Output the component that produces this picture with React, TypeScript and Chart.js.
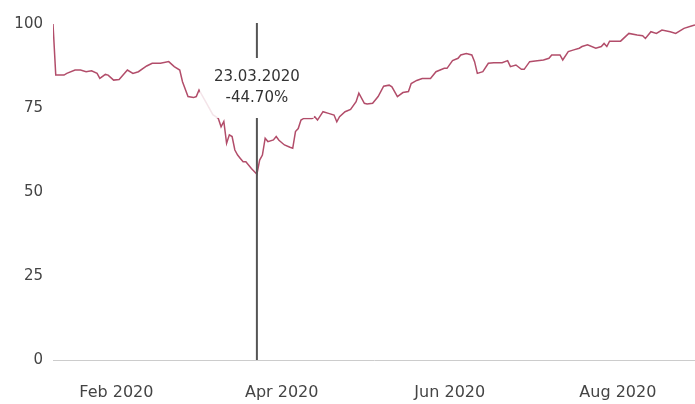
import React, { useEffect, useRef } from "react";
import { Chart, registerables } from "chart.js";

Chart.register(...registerables);

const dates = [
  "2020-01-09", "2020-01-10", "2020-01-13", "2020-01-14", "2020-01-17", "2020-01-19", "2020-01-21", "2020-01-23",
  "2020-01-25", "2020-01-26", "2020-01-28", "2020-01-29", "2020-01-31", "2020-02-02", "2020-02-05", "2020-02-07",
  "2020-02-09", "2020-02-12", "2020-02-14", "2020-02-17", "2020-02-20", "2020-02-22", "2020-02-24", "2020-02-25",
  "2020-02-27", "2020-02-29", "2020-03-01", "2020-03-02", "2020-03-05", "2020-03-07", "2020-03-09", "2020-03-10",
  "2020-03-11", "2020-03-12", "2020-03-13", "2020-03-14", "2020-03-15", "2020-03-16", "2020-03-17", "2020-03-18",
  "2020-03-19", "2020-03-21", "2020-03-23", "2020-03-24", "2020-03-25", "2020-03-26", "2020-03-27", "2020-03-29",
  "2020-03-30", "2020-03-31", "2020-04-02", "2020-04-04", "2020-04-05", "2020-04-06", "2020-04-07", "2020-04-08",
  "2020-04-09", "2020-04-12", "2020-04-13", "2020-04-14", "2020-04-16", "2020-04-18", "2020-04-20", "2020-04-21",
  "2020-04-22", "2020-04-24", "2020-04-26", "2020-04-28", "2020-04-29", "2020-05-01", "2020-05-02", "2020-05-04",
  "2020-05-06", "2020-05-08", "2020-05-10", "2020-05-11", "2020-05-13", "2020-05-15", "2020-05-17", "2020-05-18",
  "2020-05-20", "2020-05-22", "2020-05-25", "2020-05-27", "2020-05-30", "2020-05-31", "2020-06-02", "2020-06-04",
  "2020-06-05", "2020-06-07", "2020-06-09", "2020-06-10", "2020-06-11", "2020-06-13", "2020-06-15", "2020-06-17",
  "2020-06-20", "2020-06-22", "2020-06-23", "2020-06-25", "2020-06-27", "2020-06-28", "2020-06-30", "2020-07-02",
  "2020-07-05", "2020-07-07", "2020-07-08", "2020-07-11", "2020-07-12", "2020-07-14", "2020-07-16", "2020-07-18",
  "2020-07-19", "2020-07-21", "2020-07-24", "2020-07-26", "2020-07-27", "2020-07-28", "2020-07-29", "2020-08-02",
  "2020-08-05", "2020-08-08", "2020-08-10", "2020-08-11", "2020-08-13", "2020-08-15", "2020-08-17", "2020-08-20",
  "2020-08-22", "2020-08-25", "2020-08-28", "2020-08-29",
];

const values = [
  100, 84.8, 84.8, 85.3, 86.3, 86.3, 85.8, 86.1,
  85.3, 83.8, 85, 84.8, 83.3, 83.5, 86.3, 85.3,
  85.8, 87.5, 88.3, 88.3, 88.8, 87.3, 86.3, 82.8,
  78.4, 78.1, 78.4, 80.4, 76, 73, 71.9, 69.4,
  71, 64.5, 67, 66.5, 62.5, 61, 60, 59,
  59, 57, 55.3, 59.5, 61, 66, 65, 65.5,
  66.5, 65.4, 64, 63.3, 63, 68, 68.9, 71.4,
  71.9, 71.9, 72.4, 71.4, 73.9, 73.4, 72.9, 70.9,
  72.4, 73.9, 74.6, 76.9, 79.4, 76.4, 76.2, 76.4,
  78.4, 81.5, 81.8, 81.3, 78.4, 79.6, 79.9, 82.3,
  83.2, 83.8, 83.8, 85.8, 86.8, 86.8, 89.1, 89.8,
  90.8, 91.2, 90.8, 88.8, 85.3, 85.8, 88.3, 88.5,
  88.5, 89.1, 87.3, 87.8, 86.5, 86.5, 88.8, 89,
  89.3, 89.8, 90.8, 90.8, 89.3, 91.8, 92.3, 92.8,
  93.3, 93.8, 92.8, 93.3, 94.2, 93.3, 94.9, 94.9,
  97.2, 96.7, 96.5, 95.7, 97.7, 97.2, 98.2, 97.7,
  97.2, 98.7, 99.5, 99.7,
];

const xTickDates = ["2020-02-01", "2020-04-01", "2020-06-01", "2020-08-01"];
const xTickLabels = ["Feb 2020", "Apr 2020", "Jun 2020", "Aug 2020"];
const yTicks = [0, 25, 50, 75, 100];
const markerDate = "2020-03-23";
const markerLines = ["23.03.2020", "-44.70%"];

const toTs = (s: string) => Date.parse(s + "T00:00:00Z");

const FONT_FAMILY = "'DejaVu Sans', sans-serif";
const LINE_COLOR = "#b24d6a";
const TEXT_COLOR = "#444444";

const markerPlugin = {
  id: "marker",
  afterDatasetsDraw(chart: any) {
    const { ctx, chartArea, scales } = chart;
    const x = scales.x.getPixelForValue(toTs(markerDate));
    const boxW = 114;
    const boxTop = chartArea.top + 34;
    const boxH = 60;
    ctx.save();
    ctx.fillStyle = "rgba(255,255,255,0.85)";
    ctx.fillRect(x - boxW / 2, boxTop, boxW, boxH);
    ctx.strokeStyle = "#555555";
    ctx.lineWidth = 2;
    ctx.beginPath();
    ctx.moveTo(x, chartArea.top - 1);
    ctx.lineTo(x, boxTop);
    ctx.moveTo(x, boxTop + boxH);
    ctx.lineTo(x, chartArea.bottom);
    ctx.stroke();
    ctx.fillStyle = "#333333";
    ctx.font = `15px ${FONT_FAMILY}`;
    ctx.textAlign = "center";
    ctx.textBaseline = "middle";
    ctx.fillText(markerLines[0], x, boxTop + 19);
    ctx.fillText(markerLines[1], x, boxTop + 40);
    ctx.restore();
  },
};

export default function App() {
  const canvasRef = useRef<HTMLCanvasElement | null>(null);

  useEffect(() => {
    const canvas = canvasRef.current;
    if (!canvas) return;
    const chart = new Chart(canvas, {
      type: "line",
      data: {
        datasets: [
          {
            data: dates.map((d, i) => ({ x: toTs(d), y: values[i] })),
            borderColor: LINE_COLOR,
            borderWidth: 1.5,
            pointRadius: 0,
            tension: 0,
            fill: false,
          },
        ],
      },
      options: {
        animation: false,
        responsive: false,
        devicePixelRatio: 1,
        layout: { padding: { top: 24, right: 0, bottom: 0, left: 0 } },
        plugins: { legend: { display: false }, tooltip: { enabled: false } },
        scales: {
          x: {
            type: "linear",
            min: toTs(dates[0]),
            max: toTs(dates[dates.length - 1]),
            afterBuildTicks: (s: any) => {
              s.ticks = xTickDates.map((d) => ({ value: toTs(d) }));
            },
            afterFit: (s: any) => {
              s.height = 44;
            },
            ticks: {
              autoSkip: false,
              maxRotation: 0,
              padding: 23,
              color: TEXT_COLOR,
              font: { family: FONT_FAMILY, size: 16 },
              callback: (v: any) => {
                const i = xTickDates.findIndex((d) => toTs(d) === v);
                return i >= 0 ? xTickLabels[i] : "";
              },
            },
            grid: { display: false, drawTicks: false },
            border: { display: true, color: "#cccccc", width: 1 },
          },
          y: {
            min: 0,
            max: 100,
            afterBuildTicks: (s: any) => {
              s.ticks = yTicks.map((v) => ({ value: v }));
            },
            afterFit: (s: any) => {
              s.width = 53;
            },
            ticks: {
              padding: 10,
              color: TEXT_COLOR,
              font: { family: FONT_FAMILY, size: 15 },
            },
            grid: { display: false, drawTicks: false },
            border: { display: false },
          },
        },
      },
      plugins: [markerPlugin],
    });
    return () => chart.destroy();
  }, []);

  return (
    <div style={{ position: "fixed", left: 0, top: 0, width: 695, height: 404, background: "#fff" }}>
      <canvas ref={canvasRef} width={695} height={404} />
    </div>
  );
}
